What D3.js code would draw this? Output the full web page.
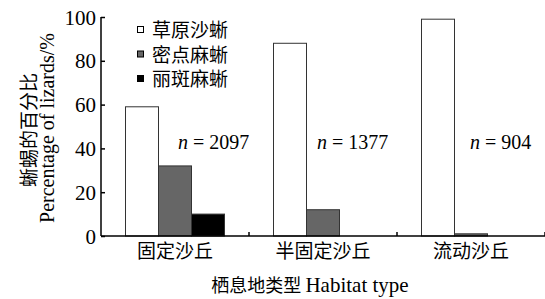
<!DOCTYPE html>
<html><head><meta charset="utf-8">
<script src="https://cdn.jsdelivr.net/npm/d3@7"></script>
<style>body{margin:0;background:#fff}</style>
</head><body>
<script>
const categories = ["固定沙丘", "半固定沙丘", "流动沙丘"];
const seriesNames = ["草原沙蜥", "密点麻蜥", "丽斑麻蜥"];
const series1 = [59, 88, 99];
const series2 = [32, 12, 1];
const series3 = [10, 0, 0];
const nLabels = ["2097", "1377", "904"];
const yTicks = [0, 20, 40, 60, 80, 100];
const colors = ["#ffffff", "#666666", "#000000"];

const W = 545, H = 299;
const svg = d3.select("body").append("svg").attr("width", W).attr("height", H);
const x0 = 101, x1 = 545, yTop = 17, yBot = 236;
const x = d3.scaleBand().domain(categories).range([x0, x1]).paddingInner(0).paddingOuter(0);
const y = d3.scaleLinear().domain([0, 100]).range([yBot, yTop]);
const xs = d3.scaleBand().domain([0,1,2]).range([0, 99]);
const serif = "'Liberation Serif','DejaVu Serif',serif";
const cjk = "'Noto Sans CJK SC',sans-serif";

const data = [series1, series2, series3];
const g = svg.append("g");
data.forEach((s, si) => {
  g.selectAll(null).data(s).enter().append("rect")
    .attr("x", (d, i) => x(categories[i]) + (x.bandwidth() - 99) / 2 + xs(si))
    .attr("y", d => y(d))
    .attr("width", xs.bandwidth())
    .attr("height", d => yBot - y(d))
    .attr("fill", colors[si])
    .attr("stroke", d => d > 0 ? "#333" : "none")
    .attr("stroke-width", 1);
});

// y axis
const ya = svg.append("g").attr("transform", `translate(${x0},0)`)
  .call(d3.axisLeft(y).tickValues(yTicks).tickSize(4).tickSizeOuter(0));
ya.select(".domain").attr("stroke", "#000").attr("stroke-width", 1.5).attr("d", `M0,${yTop}V${yBot}`);
ya.selectAll(".tick line").attr("x2", 4).attr("stroke", "#000").attr("stroke-width", 1.5);
ya.selectAll(".tick text").attr("font-family", serif).attr("font-size", 21).attr("fill", "#000").attr("x", -5).attr("dy", "0.34em");

// x axis
const xa = svg.append("g").attr("transform", `translate(0,${yBot})`)
  .call(d3.axisBottom(x).tickSize(0));
xa.select(".domain").attr("stroke", "#000").attr("stroke-width", 1.5).attr("d", `M${x0},0H${x1}`);
xa.selectAll(".tick text").attr("font-family", cjk).attr("font-size", 19).attr("fill", "#000").attr("y", 9);
categories.forEach(c => {
  svg.append("line").attr("x1", x(c) + x.bandwidth()).attr("x2", x(c) + x.bandwidth())
    .attr("y1", yBot).attr("y2", yBot - 4).attr("stroke", "#000").attr("stroke-width", 1.5);
});

// n labels
const nOffsets = [77, 68, 73];
categories.forEach((c, i) => {
  const t = svg.append("text").attr("x", x(c) + nOffsets[i]).attr("y", 149)
    .attr("font-family", serif).attr("font-size", 20);
  t.append("tspan").attr("font-style", "italic").text("n");
  t.append("tspan").text(" = " + nLabels[i]);
});

// legend
seriesNames.forEach((n, i) => {
  const ly = 30 + i * 24.5;
  svg.append("rect").attr("x", 137.5).attr("y", ly - 3.5).attr("width", 6).attr("height", 6)
    .attr("fill", colors[i]).attr("stroke", "#000").attr("stroke-width", 1);
  svg.append("text").attr("x", 152).attr("y", ly + 7).attr("font-family", cjk)
    .attr("font-size", 19).text(n);
});

// axis titles
svg.append("text").attr("x", 310).attr("y", 292).attr("text-anchor", "middle")
  .attr("font-size", 18).attr("font-family", cjk)
  .call(t => { t.append("tspan").text("栖息地类型 "); t.append("tspan").attr("font-family", serif).attr("font-size", 21).text("Habitat type"); });
svg.append("text").attr("transform", "translate(36,130) rotate(-90)").attr("text-anchor", "middle")
  .attr("font-family", cjk).attr("font-size", 19).text("蜥蜴的百分比");
svg.append("text").attr("transform", "translate(54,128) rotate(-90)").attr("text-anchor", "middle")
  .attr("font-family", serif).attr("font-size", 20).text("Percentage of lizards/%");
</script>
</body></html>
